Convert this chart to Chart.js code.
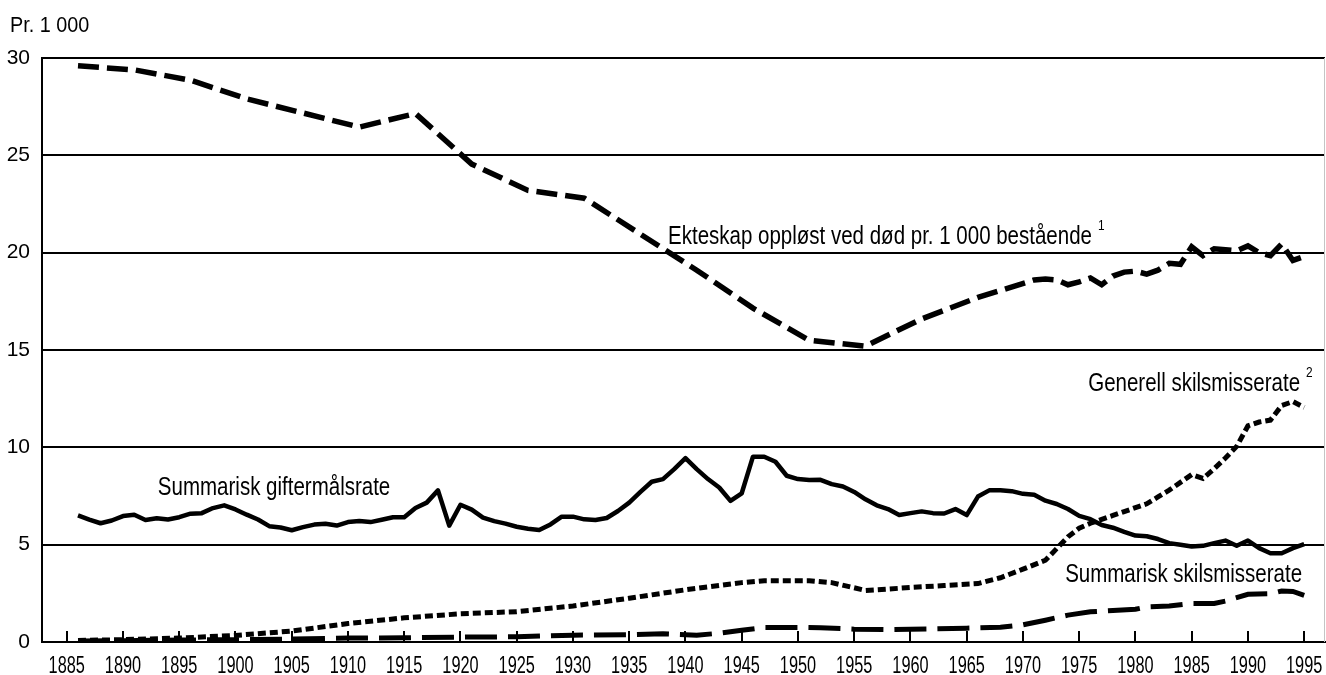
<!DOCTYPE html>
<html>
<head>
<meta charset="utf-8">
<script src="https://cdn.jsdelivr.net/npm/chart.js@4/dist/chart.umd.min.js"></script>
<style>
  html, body { margin: 0; padding: 0; background: #fff; }
  #wrap { width: 1326px; height: 675px; }
</style>
</head>
<body>
<div id="wrap"><canvas id="chart" width="1326" height="675"></canvas></div>
<script>
// Ekteskap oppløst ved død pr. 1 000 bestående (5-årige punkter, så årlige)
const deathYears = [1886, 1891, 1896, 1901, 1911, 1916, 1921, 1926, 1931, 1936, 1941, 1946, 1951, 1956, 1961, 1966, 1971,
  1972, 1973, 1974, 1975, 1976, 1977, 1978, 1979, 1980, 1981, 1982, 1983, 1984, 1985, 1986, 1987, 1988, 1989, 1990,
  1991, 1992, 1993, 1994, 1995];
const deathRates = [29.6, 29.39, 28.86, 27.9, 26.45, 27.15, 24.55, 23.2, 22.8, 20.95, 19.1, 17.15, 15.5, 15.2, 16.6, 17.7, 18.6,
  18.65, 18.6, 18.35, 18.5, 18.7, 18.35, 18.8, 19.0, 19.05, 18.9, 19.1, 19.45, 19.4, 20.3, 19.85, 20.2, 20.15, 20.1, 20.35,
  20.0, 19.85, 20.45, 19.6, 19.8];

// Generell skilsmisserate
const divorceYears = [1886, 1890, 1895, 1900, 1905, 1910, 1915, 1920, 1925, 1930, 1935, 1940, 1945, 1947, 1951, 1953, 1956,
  1958, 1960, 1963, 1966, 1968, 1970, 1972, 1973, 1974, 1975, 1976, 1977, 1978, 1979, 1980, 1981, 1982, 1983, 1984,
  1985, 1986, 1987, 1988, 1989, 1990, 1991, 1992, 1993, 1994, 1995];
const divorceRates = [0.08, 0.12, 0.2, 0.34, 0.56, 0.95, 1.24, 1.45, 1.56, 1.85, 2.25, 2.68, 3.05, 3.15, 3.15, 3.05, 2.65,
  2.72, 2.8, 2.9, 3.0, 3.3, 3.74, 4.2, 4.8, 5.4, 5.85, 6.1, 6.3, 6.5, 6.7, 6.9, 7.1, 7.45, 7.8, 8.2,
  8.6, 8.4, 8.9, 9.45, 10.05, 11.1, 11.3, 11.4, 12.15, 12.35, 12.05];

// Summarisk giftermålsrate (årlig 1886-1995)
const marriageYears = [1886, 1887, 1888, 1889, 1890, 1891, 1892, 1893, 1894, 1895, 1896, 1897, 1898, 1899, 1900,
  1901, 1902, 1903, 1904, 1905, 1906, 1907, 1908, 1909, 1910, 1911, 1912, 1913, 1914, 1915, 1916, 1917, 1918, 1919, 1920,
  1921, 1922, 1923, 1924, 1925, 1926, 1927, 1928, 1929, 1930, 1931, 1932, 1933, 1934, 1935, 1936, 1937, 1938, 1939, 1940,
  1941, 1942, 1943, 1944, 1945, 1946, 1947, 1948, 1949, 1950, 1951, 1952, 1953, 1954, 1955, 1956, 1957, 1958, 1959, 1960,
  1961, 1962, 1963, 1964, 1965, 1966, 1967, 1968, 1969, 1970, 1971, 1972, 1973, 1974, 1975, 1976, 1977, 1978, 1979, 1980,
  1981, 1982, 1983, 1984, 1985, 1986, 1987, 1988, 1989, 1990, 1991, 1992, 1993, 1994, 1995];
const marriageRates = [6.50, 6.29, 6.10, 6.24, 6.47, 6.54, 6.27, 6.36, 6.29, 6.41, 6.59, 6.62, 6.88, 7.02, 6.81,
  6.54, 6.29, 5.95, 5.88, 5.74, 5.90, 6.03, 6.07, 5.98, 6.16, 6.21, 6.16, 6.28, 6.41, 6.41, 6.88, 7.16, 7.79, 5.98, 7.05,
  6.80, 6.39, 6.21, 6.08, 5.92, 5.82, 5.75, 6.04, 6.44, 6.44, 6.30, 6.27, 6.37, 6.73, 7.16, 7.71, 8.23, 8.37, 8.88, 9.44,
  8.88, 8.37, 7.94, 7.25, 7.64, 9.52, 9.52, 9.26, 8.54, 8.37, 8.32, 8.33, 8.11, 7.99, 7.71, 7.33, 7.02, 6.83, 6.52, 6.62,
  6.71, 6.62, 6.60, 6.83, 6.52, 7.47, 7.79, 7.79, 7.75, 7.61, 7.56, 7.26, 7.09, 6.83, 6.48, 6.31, 6.01, 5.87, 5.66, 5.47,
  5.43, 5.29, 5.08, 5.00, 4.91, 4.94, 5.08, 5.21, 4.94, 5.21, 4.82, 4.56, 4.56, 4.82, 5.03];

// Summarisk skilsmisserate
const totalDivYears = [1886, 1890, 1895, 1900, 1905, 1910, 1915, 1920, 1925, 1930, 1935, 1938, 1941, 1943, 1945, 1947,
  1950, 1952, 1955, 1958, 1962, 1965, 1968, 1970, 1972, 1974, 1976, 1978, 1980, 1981, 1983, 1985, 1987, 1988, 1990,
  1992, 1993, 1994, 1995];
const totalDivRates = [0.05, 0.07, 0.1, 0.12, 0.15, 0.2, 0.22, 0.25, 0.27, 0.35, 0.37, 0.42, 0.35, 0.45, 0.6, 0.75,
  0.75, 0.73, 0.66, 0.64, 0.67, 0.71, 0.76, 0.88, 1.12, 1.38, 1.55, 1.62, 1.68, 1.8, 1.85, 1.98, 1.98, 2.1, 2.45,
  2.48, 2.62, 2.6, 2.4];

const xTicks = [1885, 1890, 1895, 1900, 1905, 1910, 1915, 1920, 1925, 1930, 1935, 1940, 1945, 1950, 1955,
  1960, 1965, 1970, 1975, 1980, 1985, 1990, 1995];

const regular = '"Liberation Sans", Arial, sans-serif';

function points(xs, ys) {
  return xs.map((x, i) => ({ x: x, y: ys[i] }));
}

// smal skrift: vanlig skrift klemt sammen vannrett
function condensed(ctx, text, x, y, size, sx, align) {
  ctx.save();
  ctx.translate(x, y);
  ctx.scale(sx, 1);
  ctx.font = size + 'px ' + regular;
  ctx.textAlign = align || 'left';
  ctx.fillText(text, 0, 0);
  const w = ctx.measureText(text).width * sx;
  ctx.restore();
  return w;
}

// tekster i diagrammet (plassert i dataverdier)
const notes = [
  { text: 'Ekteskap oppløst ved død pr. 1 000 bestående', sup: '1', year: 1938.45, value: 20.42 },
  { text: 'Generell skilsmisserate', sup: '2', year: 1975.8, value: 12.91 },
  { text: 'Summarisk giftermålsrate', sup: '', year: 1893.1, value: 7.56 },
  { text: 'Summarisk skilsmisserate', sup: '', year: 1973.75, value: 3.09 }
];

const extras = {
  id: 'extras',
  afterDatasetsDraw(chart) {
    const { ctx, chartArea, scales } = chart;
    const x = scales.x, y = scales.y;
    ctx.save();
    // tick marks inn i plottet
    ctx.strokeStyle = '#000';
    ctx.lineWidth = 2;
    xTicks.forEach(t => {
      const px = Math.round(x.getPixelForValue(t));
      ctx.beginPath();
      ctx.moveTo(px, chartArea.bottom);
      ctx.lineTo(px, chartArea.bottom - 11);
      ctx.stroke();
    });
    // høyre ramme
    ctx.strokeStyle = '#c4c4c4';
    ctx.lineWidth = 1;
    ctx.beginPath();
    ctx.moveTo(chartArea.right - 0.5, chartArea.top);
    ctx.lineTo(chartArea.right - 0.5, chartArea.bottom);
    ctx.stroke();

    ctx.fillStyle = '#000';
    ctx.textBaseline = 'alphabetic';
    notes.forEach(n => {
      const px = x.getPixelForValue(n.year);
      const py = y.getPixelForValue(n.value);
      const w = condensed(ctx, n.text, px, py, 25, 0.82);
      if (n.sup) condensed(ctx, n.sup, px + w + 6, py - 14, 14, 0.85);
    });
    // årstall under aksen
    x.ticks.forEach(t => {
      condensed(ctx, String(t.value), x.getPixelForValue(t.value), 673, 24, 0.68, 'center');
    });
    condensed(ctx, 'Pr. 1 000', 10, 32, 22, 0.9);
    ctx.restore();
  }
};

const common = {
  borderColor: '#000',
  pointRadius: 0,
  tension: 0,
  fill: false,
  borderCapStyle: 'butt'
};

new Chart(document.getElementById('chart'), {
  type: 'line',
  data: {
    datasets: [
      Object.assign({}, common, {
        label: 'Ekteskap oppløst ved død pr. 1 000 bestående',
        data: points(deathYears, deathRates),
        borderWidth: 5.5,
        borderDash: [21, 8]
      }),
      Object.assign({}, common, {
        label: 'Generell skilsmisserate',
        data: points(divorceYears, divorceRates),
        borderWidth: 5,
        borderDash: [8, 4]
      }),
      Object.assign({}, common, {
        label: 'Summarisk skilsmisserate',
        data: points(totalDivYears, totalDivRates),
        borderWidth: 5,
        borderDash: [32, 11]
      }),
      Object.assign({}, common, {
        label: 'Summarisk giftermålsrate',
        data: points(marriageYears, marriageRates),
        borderWidth: 4.5,
        borderJoinStyle: 'round'
      })
    ]
  },
  options: {
    responsive: false,
    animation: false,
    layout: { padding: { top: 58, right: 1, left: 0, bottom: 0 } },
    plugins: {
      legend: { display: false },
      tooltip: { enabled: false },
      title: { display: false }
    },
    scales: {
      x: {
        type: 'linear',
        min: 1882.8,
        max: 1996.85,
        afterBuildTicks: s => { s.ticks = xTicks.map(v => ({ value: v })); },
        afterFit: s => { s.height = 33; },
        grid: { display: false },
        border: { display: true, color: '#000', width: 2 },
        ticks: { display: false }
      },
      y: {
        min: 0,
        max: 30,
        afterFit: s => { s.width = 42; },
        ticks: {
          stepSize: 5,
          color: '#000',
          padding: 12,
          font: { family: regular, size: 21 }
        },
        grid: { color: '#000', lineWidth: 2, drawTicks: false },
        border: { display: true, color: '#000', width: 2 }
      }
    }
  },
  plugins: [extras]
});
</script>
</body>
</html>
